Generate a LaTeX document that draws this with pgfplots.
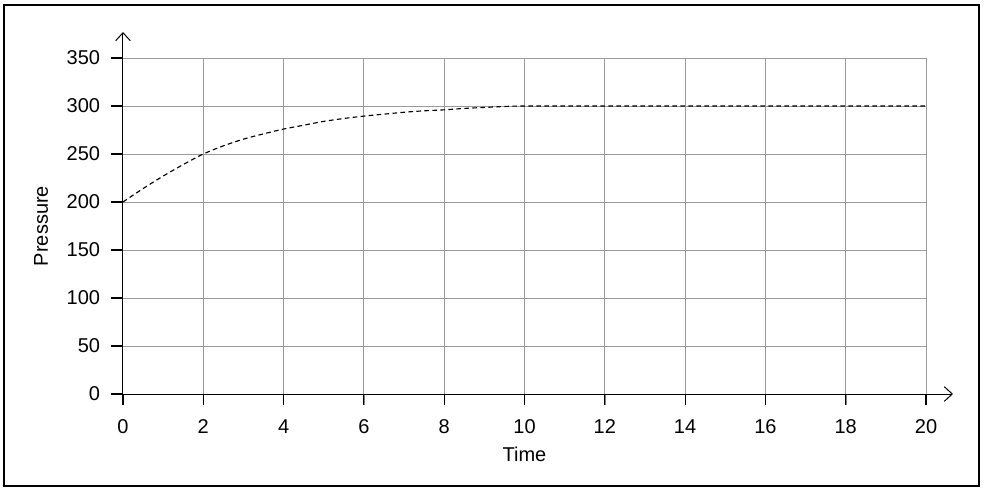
\documentclass[border=0pt]{standalone}
\usepackage{pgfplots}
\pgfplotsset{compat=1.18}
\usetikzlibrary{arrows.meta}
\usepackage{fontspec}
\setmainfont{Liberation Sans}
\definecolor{gridc}{RGB}{155,155,155}

\begin{document}
\begin{tikzpicture}
  \begin{axis}[
    scale only axis,
    width=602.25pt, height=252pt,
    xmin=0, xmax=20, ymin=0, ymax=350,
    xtick={0,2,...,20},
    ytick={0,50,...,350},
    axis lines=left,
    axis line style={line width=0.75pt, black},
    x axis line style={shorten >=-20.25pt, -{Straight Barb[length=6pt,width=11pt,line width=0.75pt]}},
    y axis line style={shorten >=-19.5pt, -{Straight Barb[length=6pt,width=11pt,line width=0.75pt]}},
    grid=major,
    major grid style={gridc, line width=0.75pt},
    tick align=outside,
    major tick length=8pt,
    clip=false,
    /pgf/number format/assume math mode=true,
    font=\fontsize{15pt}{18pt}\selectfont,
    xticklabel style={anchor=north, inner sep=0pt, yshift=-11pt},
    yticklabel style={anchor=east, inner sep=0pt, xshift=-9pt},
    xlabel={Time},
    ylabel={Pressure},
    every axis x label/.style={at={(axis description cs:0.5,0)}, yshift=-45pt, anchor=center},
    every axis y label/.style={at={(axis description cs:0,0.5)}, xshift=-61.5pt, rotate=90, anchor=center},
  ]
    % pressure over time
    \addplot[black, line width=0.85pt, dash pattern=on 3.5pt off 2.5pt, smooth] coordinates {
      (0,200) (0.5,214) (1,227) (1.5,239) (2,250) (2.5,258.5) (3,265.5)
      (3.5,271) (4,276) (4.5,280) (5,284) (5.5,287) (6,289.5)
      (6.5,291.5) (7,293.5) (7.5,295) (8,296) (8.5,297.5) (9,298.5)
      (9.5,299.5) (10,300) (12,300) (14,300) (16,300) (18,300) (20,300)
    };
    \coordinate (O) at (axis cs:0,0);
  \end{axis}
  % tick marks, 40.15px per 2 units in x, 48px per 50 in y (1px = 0.75pt)
  \draw[black, line width=0.8pt]
    \foreach \i in {0,...,10} {([xshift=\i*60.225pt]O) -- ++(0,-8.5pt)}
    \foreach \j in {0,...,7} {([yshift=\j*36pt]O) -- ++(-9pt,0)};
  \draw[line width=1.1pt] ([shift={(-89.25pt,-69pt)}]O) rectangle ([shift={(642pt,291.75pt)}]O);
  \path ([shift={(-92.25pt,-75pt)}]O) rectangle ([shift={(646.5pt,295.5pt)}]O);
\end{tikzpicture}
\end{document}
